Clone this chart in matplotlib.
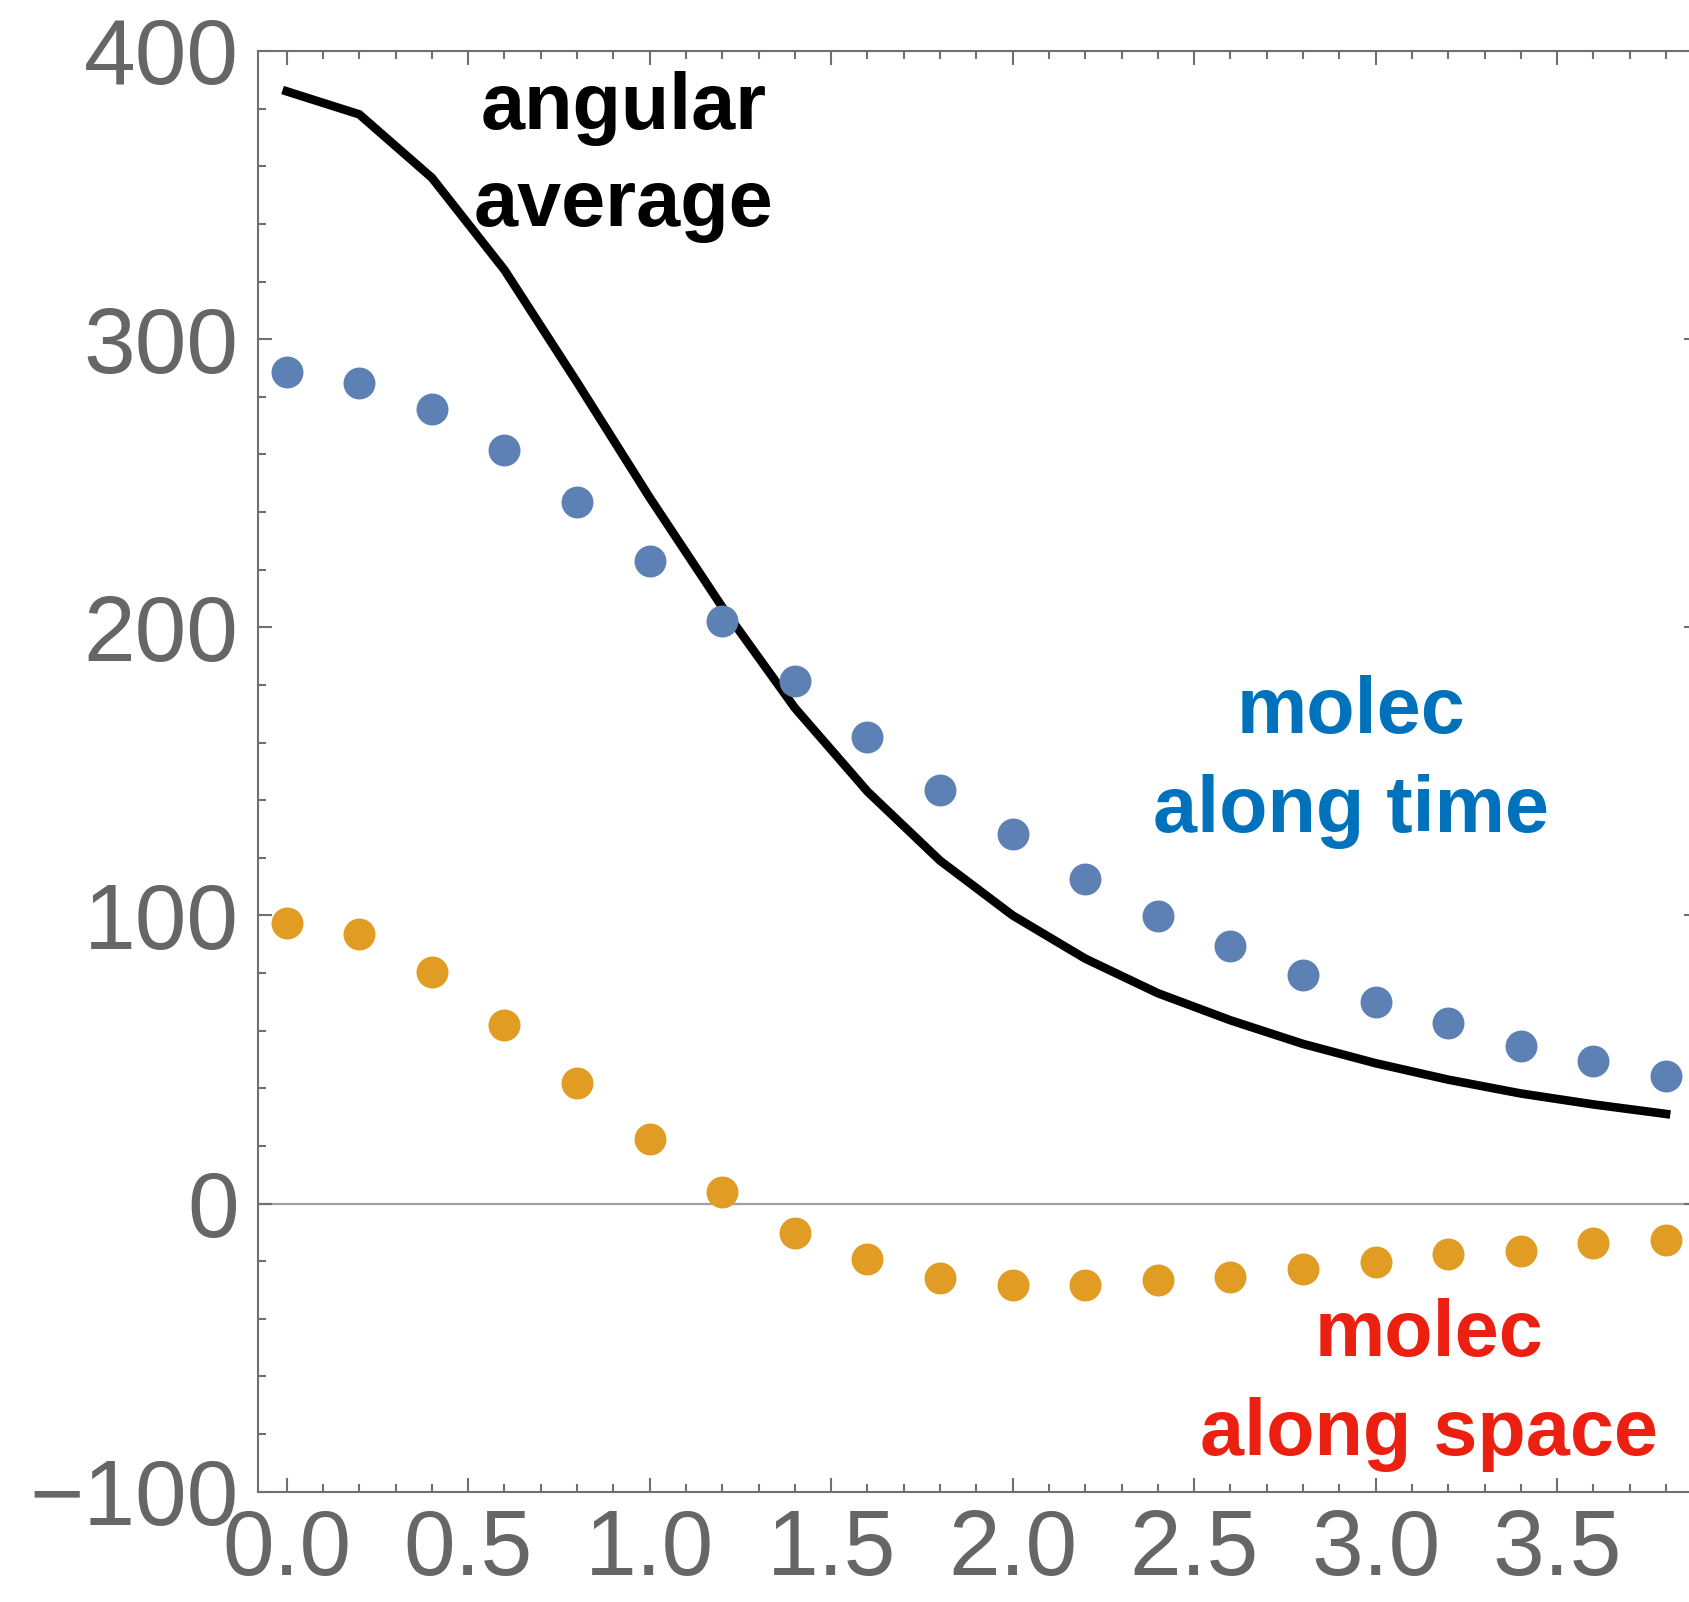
import matplotlib.pyplot as plt
import matplotlib as mpl
import numpy as np
from matplotlib.ticker import MultipleLocator, FormatStrFormatter

mpl.rcParams.update({'font.family': ['Liberation Sans', 'DejaVu Sans']})

# sample points along the horizontal axis
r = [0.0, 0.2, 0.4, 0.6, 0.8, 1.0, 1.2, 1.4, 1.6, 1.8,
     2.0, 2.2, 2.4, 2.6, 2.8, 3.0, 3.2, 3.4, 3.6, 3.8]

angular_avg = [386, 378, 356, 324, 285, 245, 207, 172, 143, 119,
               100, 85, 73, 63.6, 55.4, 48.7, 43.0, 38.2, 34.4, 31.1]
along_time = [288.5, 284.8, 275.8, 261.6, 243.6, 223.1, 202.1, 181.5, 162.0, 143.7,
              128.4, 112.6, 99.9, 89.4, 79.3, 70.0, 62.5, 54.6, 49.4, 44.2]
along_space = [97.3, 93.6, 80.5, 62.1, 41.9, 22.5, 4.1, -10.1, -19.1, -25.8,
               -28.1, -28.1, -26.6, -25.4, -22.8, -20.2, -17.6, -16.5, -13.8, -12.7]

# labels: (line text, x, baseline y, colour)
labels = [("angular", 0.929, 373.0, 'black'),
          ("average", 0.929, 339.4, 'black'),
          ("molec", 2.932, 163.2, '#0072BB'),
          ("along time", 2.932, 128.9, '#0072BB'),
          ("molec", 3.147, -52.8, '#EB2010'),
          ("along space", 3.147, -87.1, '#EB2010')]

fig = plt.figure(figsize=(16.9, 16.02), dpi=100)
ax = fig.add_axes([257.7 / 1690, 110.3 / 1602, 1440.3 / 1690, 1440.7 / 1602])

ax.axhline(0, color='#a0a0a0', lw=1.6, zorder=1)
ax.plot(r, angular_avg, color='black', lw=6.2, solid_joinstyle='miter', zorder=2)
ax.plot(r, along_time, 'o', ms=23, color='#5E81B5', mec='none', zorder=3)
ax.plot(r, along_space, 'o', ms=23, color='#E19C24', mec='none', zorder=3)

for txt, x, y, c in labels:
    ax.text(x, y, txt, color=c, fontsize=57, fontweight='bold',
            ha='center', va='baseline')

ax.set_xlim(-0.0799, 3.888)
ax.set_ylim(-100, 400)

ax.xaxis.set_major_locator(MultipleLocator(0.5))
ax.xaxis.set_minor_locator(MultipleLocator(0.1))
ax.yaxis.set_major_locator(MultipleLocator(100))
ax.yaxis.set_minor_locator(MultipleLocator(20))
ax.xaxis.set_major_formatter(FormatStrFormatter('%.1f'))

for s in ax.spines.values():
    s.set_color('#707070')
    s.set_linewidth(1.5)

ax.tick_params(which='both', direction='in', top=True, right=True,
               color='#707070', width=1.5, labelsize=67, labelcolor='#666666')
ax.tick_params(which='major', length=10)
ax.tick_params(which='minor', length=5.8)
ax.tick_params(axis='y', pad=13.7)
ax.tick_params(axis='x', pad=11.5)

fig.savefig("out.png", dpi=100)
